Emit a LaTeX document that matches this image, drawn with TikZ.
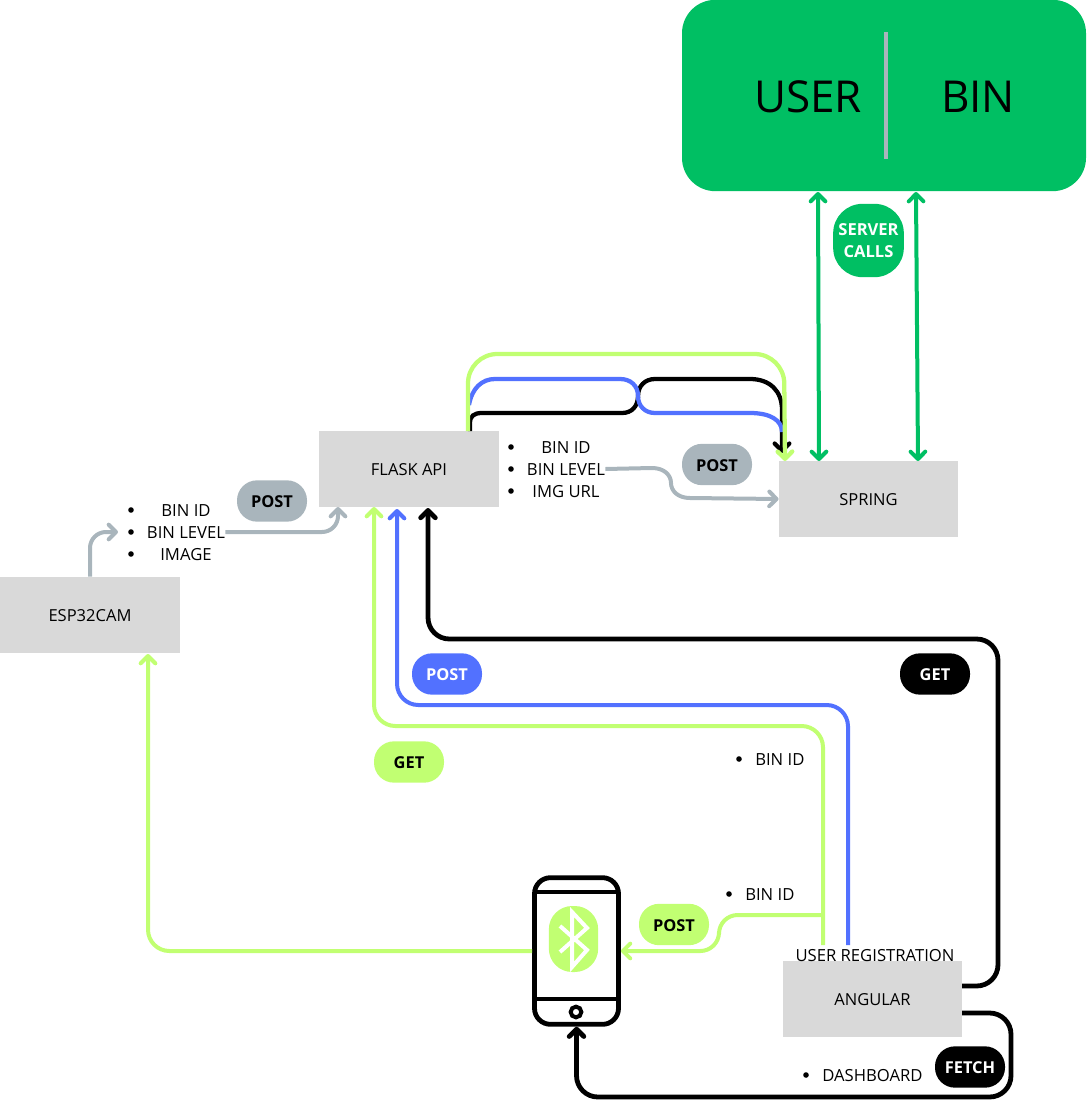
\documentclass[tikz,border=0pt]{standalone}
\usepackage{fontspec}
\setmainfont{Open Sans}
\usetikzlibrary{arrows.meta}
\definecolor{dbgreen}{HTML}{00BF63}
\definecolor{lime}{HTML}{C1FF72}
\definecolor{royal}{HTML}{5271FF}
\definecolor{slate}{HTML}{A9B5BC}
\definecolor{boxgray}{HTML}{D9D9D9}
\tikzset{
	box/.style={fill=boxgray,minimum width=134.5pt,minimum height=57pt,inner sep=0pt,text height=10.4pt,text depth=0pt,font=\fontsize{12.4}{14}\selectfont},
	pill/.style={fill=#1,rounded corners=15pt,minimum width=52.5pt,minimum height=31pt,inner sep=0pt,text height=10.4pt,text depth=0pt,font=\fontsize{12.3}{14}\selectfont\bfseries},
	txt/.style={inner sep=0pt,text height=10.4pt,text depth=0pt,font=\fontsize{12.5}{16.5}\selectfont},
	dot/.style={circle,fill=black,inner sep=0pt,minimum size=4.2pt},
	wire/.style={line width=#1,rounded corners=16pt,line cap=butt},
	tip/.style={-{Straight Barb[length=5.5pt,width=11pt,round]}},
	bitip/.style={{Straight Barb[length=5.5pt,width=11pt,round]}-{Straight Barb[length=5.5pt,width=11pt,round]}},
}
\begin{document}
\begin{tikzpicture}[x=0.75pt,y=0.75pt,yscale=-1,xscale=1]
	\useasboundingbox (0,0) rectangle (1086,1110);
	\node [fill=dbgreen,rounded corners=25pt,minimum width=303pt,minimum height=143.5pt,inner sep=0pt] (db) at (884,95.5) {};
	\node [font=\fontsize{33}{38}\selectfont,inner sep=0pt] (user) at (808,97) {USER};
	\node [font=\fontsize{33}{38}\selectfont,inner sep=0pt] (bin) at (978,97) {BIN};
	\coordinate (septop) at (886,32);
	\coordinate (sepbot) at (886,159);
	\draw [slate,line width=3pt] (septop) -- (sepbot);

	\node [box,minimum width=135pt] (flask) at (409,469) {FLASK API};
	\node [box] (spring) at (868.5,499) {SPRING};
	\node [box,minimum width=135pt] (esp) at (90,615) {ESP32CAM};
	\node [box] (angular) at (872.5,998.5) {ANGULAR};

	\node [pill=slate,text=black] (postesp) at (272,501) {POST};
	\node [pill=slate,text=black] (postflask) at (717,464.5) {POST};
	\node [pill=royal,text=white] (postblue) at (447,674) {POST};
	\node [pill=lime,text=black] (getlime) at (409,762) {GET};
	\node [pill=black,text=white] (getblack) at (935,674) {GET};
	\node [pill=lime,text=black] (postphone) at (674,924.5) {POST};
	\node [pill=black,text=white] (fetch) at (970,1067) {FETCH};
	\node [fill=dbgreen,text=white,rounded corners=22pt,minimum width=53pt,minimum height=55pt,inner sep=0pt,align=center,font=\fontsize{12.4}{16.5}\selectfont\bfseries] (calls) at (868.5,240.5) {SERVER\\CALLS};

	\node [dot] (a1) at (131,510) {};
	\node [dot] (a2) at (131,532) {};
	\node [dot] (a3) at (131,554) {};
	\node [txt] (espid) at (186,510) {BIN ID};
	\node [txt] (esplevel) at (186,532) {BIN LEVEL};
	\node [txt] (espimg) at (186,554) {IMAGE};
	\node [dot] (b1) at (511,447) {};
	\node [dot] (b2) at (511,469) {};
	\node [dot] (b3) at (511,491) {};
	\node [txt] (flaskid) at (566,447) {BIN ID};
	\node [txt] (flasklevel) at (566,469) {BIN LEVEL};
	\node [txt] (flaskurl) at (566,491) {IMG URL};
	\node [dot] (c1) at (739,759) {};
	\node [txt,anchor=west] (regid) at (755,759) {BIN ID};
	\node [dot] (c2) at (729,894) {};
	\node [txt,anchor=west] (phoneid) at (745,894) {BIN ID};
	\node [dot] (c3) at (806,1075) {};
	\node [txt,anchor=west] (dash) at (822,1075) {DASHBOARD};
	\node [txt] (reg) at (875,955) {USER REGISTRATION};

	\node [draw=black,line width=3.6pt,rounded corners=12pt,minimum width=63pt,minimum height=110pt,inner sep=0pt] (phone) at (576.5,951) {};
	\coordinate (topl) at (534,892);
	\coordinate (topr) at (619,892);
	\coordinate (botl) at (534,999);
	\coordinate (botr) at (619,999);
	\draw [line width=3pt] (topl) -- (topr);
	\draw [line width=3pt] (botl) -- (botr);
	\node [circle,draw=black,line width=3pt,minimum size=8pt,inner sep=0pt] (home) at (576,1012) {};
	\node [fill=lime,rounded corners=17.5pt,minimum width=37pt,minimum height=49.5pt,inner sep=0pt] (blob) at (573.5,939) {};
	\draw [white,line width=3pt] (560,926) -- (587,950) -- (572,967) -- (572,912) -- (587,928) -- (560,952);

	\coordinate (dbleft) at (818,192);
	\coordinate (dbright) at (916,192);
	\coordinate (springleft) at (819,461);
	\coordinate (springright) at (918,461);
	\draw [dbgreen,line width=3pt,bitip] (dbleft) -- (springleft);
	\draw [dbgreen,line width=3pt,bitip] (dbright) -- (springright);

	\coordinate (flasktop) at (468,431);
	\coordinate (flaskmid) at (470,431);
	\coordinate (bluestart) at (469,405);
	\coordinate (springtop) at (785,461);
	\coordinate (blacktip) at (782,453);
	\coordinate (blueend) at (782,432);
	\draw [line width=3.2pt,tip] (flaskmid) -- (470,423) .. controls (470,416) and (474,413) .. (482,413) -- (622,413) .. controls (632,413) and (638,406) .. (638,396) .. controls (638,386) and (645,379) .. (655,379) -- (750,379) .. controls (770,379) and (782,391) .. (782,410) -- (blacktip);
	\draw [royal,line width=3.2pt] (bluestart) .. controls (472,388) and (482,379) .. (495,379) -- (620,379) .. controls (631,379) and (638,386) .. (638,396) .. controls (638,406) and (645,413) .. (655,413) -- (750,413) .. controls (770,413) and (782,420) .. (blueend);
	\draw [lime,wire=3.2pt,tip,rounded corners=22pt] (flasktop) |- (784,354) -- (springtop);

	\coordinate (leftin) at (118,532);
	\coordinate (flaskin) at (338,507);
	\draw [slate,wire=3pt,tip,rounded corners=12pt] (esp.north) |- (leftin);
	\draw [slate,wire=3pt,tip,rounded corners=12pt] (esplevel.east) -| (flaskin);
	\draw [slate,line width=3pt,tip] (flasklevel.east) -- (652,468) .. controls (664,468) and (671,475) .. (671,483) .. controls (671,491) and (678,498) .. (690,498) -- (spring.west);

	\coordinate (limeup) at (823,945);
	\coordinate (limein) at (374,507);
	\coordinate (blueup) at (848,945);
	\coordinate (bluein) at (397,509);
	\coordinate (blackout) at (962,986);
	\coordinate (blackin) at (428,508);
	\coordinate (fetchout) at (962,1013);
	\coordinate (limejoin) at (821,915);
	\coordinate (espin) at (148,654);
	\draw [royal,wire=3pt,tip] (blueup) |- (397,705) -- (bluein);
	\draw [lime,wire=3pt,tip] (limeup) |- (374,726) -- (limein);
	\draw [lime,wire=3pt,tip,rounded corners=14pt] (limejoin) -- (719,915) -- (719,951) -- (phone.east);
	\draw [lime,wire=3pt,tip] (phone.west) -| (espin);
	\draw [wire=3.6pt,tip] (blackout) -| (998,639) -| (blackin);
	\draw [wire=3.6pt,tip] (fetchout) -| (1011,1097) -| (phone.south);
\end{tikzpicture}
\end{document}
